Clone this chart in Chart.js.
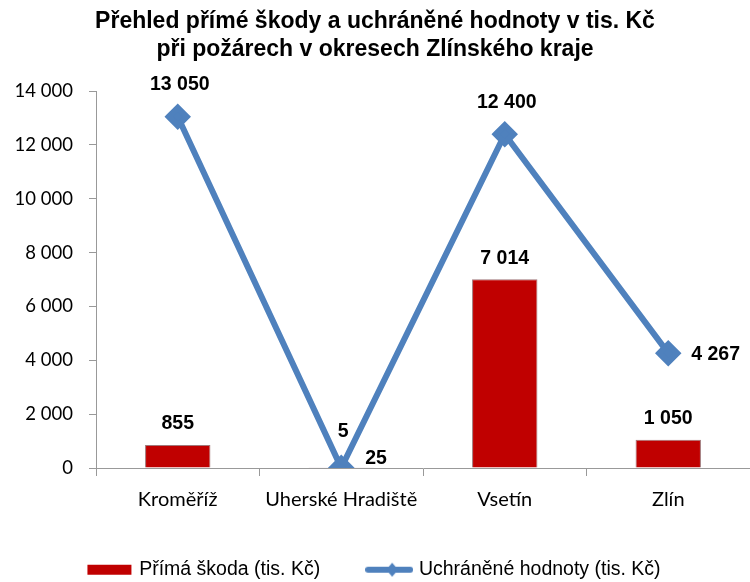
<!DOCTYPE html>
<html>
<head>
<meta charset="utf-8">
<script src="https://cdn.jsdelivr.net/npm/chart.js@4"></script>
<style>
  body { margin: 0; background: #fff; }
  #box { width: 750px; height: 582px; }
</style>
</head>
<body>
<div id="box"><canvas id="myChart"></canvas></div>
<script>
const okresy = ["Kroměříž", "Uherské Hradiště", "Vsetín", "Zlín"];
const primaSkoda = [855, 25, 7014, 1050];
const uchraneneHodnoty = [13050, 5, 12400, 4267];
const yTicks = [0, 2000, 4000, 6000, 8000, 10000, 12000, 14000];

// kde ma byt popisek u kazdeho bodu
const popiskyBar = ["top", "right", "top", "top"];
const popiskyLine = ["top", "top", "top", "right"];

function cislo(v) {
    return String(v).replace(/\B(?=(\d{3})+(?!\d))/g, " ");
}

function ikona(typ) {
    var c = document.createElement("canvas");
    c.width = 48;
    c.height = 16;
    var ctx = c.getContext("2d");
    if (typ == "bar") {
        ctx.fillStyle = "#C00000";
        ctx.fillRect(2, 3, 44, 10);
    } else {
        ctx.strokeStyle = "#4F81BD";
        ctx.lineWidth = 6;
        ctx.lineCap = "round";
        ctx.beginPath();
        ctx.moveTo(3, 8);
        ctx.lineTo(45, 8);
        ctx.stroke();
        ctx.fillStyle = "#4F81BD";
        ctx.beginPath();
        ctx.moveTo(27, 1);
        ctx.lineTo(33, 8);
        ctx.lineTo(27, 15);
        ctx.lineTo(21, 8);
        ctx.closePath();
        ctx.fill();
    }
    return c;
}

const popisky = {
    id: "popisky",
    afterDatasetsDraw(chart) {
        var ctx = chart.ctx;
        ctx.save();
        ctx.font = "bold 19.5px 'Liberation Sans', Arial, sans-serif";
        ctx.fillStyle = "#000";
        ctx.textBaseline = "middle";
        chart.data.datasets.forEach(function (ds, i) {
            var meta = chart.getDatasetMeta(i);
            var pozice = ds.type == "line" ? popiskyLine : popiskyBar;
            meta.data.forEach(function (el, j) {
                var text = cislo(ds.data[j]);
                if (pozice[j] == "right") {
                    ctx.textAlign = "left";
                    if (ds.type == "line") ctx.fillText(text, el.x + 23, el.y + 1);
                    else ctx.fillText(text, el.x + 24, el.y - 9);
                } else {
                    ctx.textAlign = "center";
                    if (ds.type == "line") ctx.fillText(text, el.x + 2, el.y - (ds.data[j] < 100 ? 36 : 32));
                    else ctx.fillText(text, el.x, el.y - 21);
                }
            });
        });
        ctx.restore();
    }
};

new Chart("myChart", {
    type: "bar",
    data: {
        labels: okresy,
        datasets: [{
            type: "bar",
            label: "Přímá škoda (tis. Kč)",
            data: primaSkoda,
            backgroundColor: "#C00000",
            borderColor: "#A0787A",
            borderWidth: 1,
            barPercentage: 0.4,
            categoryPercentage: 1,
            order: 2
        }, {
            type: "line",
            label: "Uchráněné hodnoty (tis. Kč)",
            data: uchraneneHodnoty,
            borderColor: "#4F81BD",
            backgroundColor: "#4F81BD",
            borderWidth: 6,
            pointStyle: "rectRot",
            pointRadius: 9,
            pointHoverRadius: 9,
            tension: 0,
            order: 1
        }]
    },
    plugins: [popisky],
    options: {
        responsive: true,
        maintainAspectRatio: false,
        animation: false,
        layout: { autoPadding: false, padding: 0 },
        plugins: {
            tooltip: { enabled: false },
            title: {
                display: true,
                text: ["Přehled přímé škody a uchráněné hodnoty v tis. Kč", "při požárech v okresech Zlínského kraje"],
                color: "#000",
                font: { family: "'Liberation Sans', Arial, sans-serif", size: 23, weight: "bold", lineHeight: 1.22 },
                padding: { top: 8, bottom: 27 }
            },
            legend: {
                position: "bottom",
                maxHeight: 71,
                labels: {
                    color: "#000",
                    font: { family: "'Liberation Sans', Arial, sans-serif", size: 19.5 },
                    usePointStyle: true,
                    pointStyleWidth: 40,
                    padding: 49,
                    generateLabels: function (chart) {
                        return chart.data.datasets.map(function (ds, i) {
                            return {
                                text: ds.label,
                                datasetIndex: i,
                                pointStyle: ikona(ds.type),
                                fillStyle: ds.backgroundColor,
                                strokeStyle: ds.borderColor,
                                lineWidth: 0,
                                fontColor: "#000",
                                hidden: false
                            };
                        });
                    }
                }
            }
        },
        scales: {
            x: {
                offset: true,
                grid: { display: true, offset: true, drawOnChartArea: false, tickLength: 8, color: "#999" },
                border: { color: "#999", width: 1 },
                ticks: {
                    color: "#000",
                    padding: 12,
                    font: { family: "Lato, 'Open Sans', sans-serif", size: 20 }
                },
                afterFit: function (scale) { scale.height = 43; }
            },
            y: {
                min: 0,
                max: 14000,
                afterBuildTicks: function (scale) {
                    scale.ticks = yTicks.map(function (v) { return { value: v }; });
                },
                grid: { display: true, drawOnChartArea: false, tickLength: 7, color: "#999" },
                border: { color: "#999", width: 1 },
                ticks: {
                    color: "#000",
                    padding: 16,
                    font: { family: "Lato, 'Open Sans', sans-serif", size: 18.5 },
                    callback: function (v) { return cislo(v); }
                },
                afterFit: function (scale) { scale.width = 96; }
            }
        }
    }
});
</script>
</body>
</html>
